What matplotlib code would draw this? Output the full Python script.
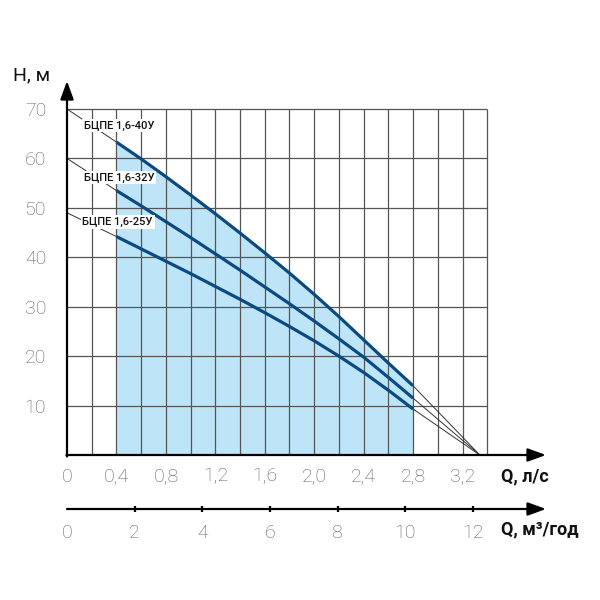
import numpy as np
import matplotlib
matplotlib.use("Agg")
import matplotlib.pyplot as plt

plt.rcParams['font.family'] = ['Roboto', 'DejaVu Sans']

# ---- data ----
q_curve = [0.4, 0.6, 0.8, 1.0, 1.2, 1.4, 1.6, 1.8, 2.0, 2.2, 2.4, 2.6, 2.8]
h_40 = [63.3, 59.9, 56.3, 52.6, 48.8, 44.9, 40.9, 36.8, 32.5, 28.0, 23.3, 18.6, 14.0]
h_32 = [53.5, 50.4, 47.2, 44.0, 40.7, 37.4, 34.0, 30.6, 27.1, 23.5, 19.8, 15.7, 11.5]
h_25 = [44.2, 41.7, 39.2, 36.7, 34.1, 31.5, 28.8, 26.0, 23.1, 20.0, 16.7, 13.1, 9.3]
series_names = ["БЦПЕ 1,6-40У", "БЦПЕ 1,6-32У", "БЦПЕ 1,6-25У"]
shutoff_heads = [70, 60, 49]          # H at Q = 0 (thin extrapolation)
q_zero_head = 3.34                      # Q where thin extrapolations meet H = 0
label_pos = [(0.42, 66.6), (0.42, 56.1), (0.41, 47.1)]

q_ticks = [0, 0.4, 0.8, 1.2, 1.6, 2.0, 2.4, 2.8, 3.2]
q_tick_labels = ["0", "0,4", "0,8", "1,2", "1,6", "2,0", "2,4", "2,8", "3,2"]
h_ticks = [10, 20, 30, 40, 50, 60, 70]
m3_ticks = [0, 2, 4, 6, 8, 10, 12]
grid_q = [0.2 * i for i in range(1, 18)]   # 0.2 ... 3.4
grid_h = [10, 20, 30, 40, 50, 60, 70]

CURVE = '#0b4a80'
FILL = '#bee4f8'
GRID = '#555555'
TICKC = '#606060'

fig = plt.figure(figsize=(6, 6), dpi=100)
W = H = 600.0
px_q = 123.6
px_h = 4.943
x0, xend = 67, 546
y0, ytop = 455, 81

ax = fig.add_axes([x0 / W, 1 - y0 / H, (xend - x0) / W, (y0 - ytop) / H])
ax.set_xlim(0, (xend - x0) / px_q)
ax.set_ylim(0, (y0 - ytop) / px_h)
for s in ax.spines.values():
    s.set_visible(False)
ax.patch.set_alpha(0)

# fill under top curve
ax.fill_between(q_curve, 0, h_40, color=FILL, lw=0, zorder=1)

# grid
ax.vlines(grid_q, 0, 70, colors=GRID, lw=0.9, zorder=2)
ax.hlines(grid_h, 0, grid_q[-1], colors=GRID, lw=0.9, zorder=2)

# curves & thin extensions
for hs, h0 in zip([h_40, h_32, h_25], shutoff_heads):
    ax.plot([0, q_curve[0]], [h0, hs[0]], color='#333333', lw=0.7, zorder=3)
    ax.plot([q_curve[-1], q_zero_head], [hs[-1], 0], color='#333333', lw=0.7, zorder=3)
    ax.plot(q_curve, hs, color=CURVE, lw=2.3, zorder=4, solid_capstyle='butt',
            solid_joinstyle='round')

for name, (lq, lh) in zip(series_names, label_pos):
    ax.text(lq, lh, name, ha='center', va='center', fontsize=8, fontweight='medium',
            color='#111111', zorder=6,
            bbox=dict(facecolor='white', edgecolor='none', pad=1.2))

# axes arrows
arrow_kw = dict(arrowstyle='-|>,head_length=1.1,head_width=0.4', lw=1.6, color='black',
                mutation_scale=10, shrinkA=0, shrinkB=0)
ax.annotate('', xy=(ax.get_xlim()[1], 0), xytext=(-0.005, 0), arrowprops=arrow_kw,
            annotation_clip=False, zorder=7)
ax.annotate('', xy=(0, ax.get_ylim()[1]), xytext=(0, -0.3), arrowprops=arrow_kw,
            annotation_clip=False, zorder=7)

ax.set_xticks(q_ticks, q_tick_labels)
ax.set_yticks(h_ticks, [str(v) for v in h_ticks])
ax.tick_params(axis='x', length=0, pad=9, labelsize=14, labelcolor=TICKC)
ax.tick_params(axis='y', length=0, pad=15, labelsize=14, labelcolor=TICKC)
for lab in ax.get_xticklabels() + ax.get_yticklabels():
    lab.set_fontweight('light')

# second (m3/h) axis
px_m3 = 33.83
yb = 509
ax2 = fig.add_axes([x0 / W, 1 - yb / H, (xend - x0) / W, 0.002])
ax2.set_xlim(0, (xend - x0) / px_m3)
ax2.set_ylim(0, 1)
for s in ax2.spines.values():
    s.set_visible(False)
ax2.patch.set_alpha(0)
ax2.set_yticks([])
ax2.annotate('', xy=(ax2.get_xlim()[1], 0), xytext=(0, 0), arrowprops=arrow_kw,
             annotation_clip=False)
ax2.set_xticks(m3_ticks, [str(v) for v in m3_ticks])
ax2.tick_params(axis='x', direction='inout', length=5, width=1.6, color='black',
                pad=8, labelsize=14, labelcolor=TICKC)
ax2.xaxis.get_major_ticks()[0].tick1line.set_visible(False)
for lab in ax2.get_xticklabels():
    lab.set_fontweight('light')

# axis titles
fig.text(13 / W, 1 - 75.7 / H, 'H, м', ha='left', va='center', fontsize=14, color='#111111')
fig.text(501 / W, 1 - 476 / H, 'Q, л/с', ha='left', va='center', fontsize=13,
         fontweight='bold', color='#111111')
fig.text(501 / W, 1 - 529 / H, 'Q, м³/год', ha='left', va='center', fontsize=13,
         fontweight='bold', color='#111111')

fig.savefig('out.png', dpi=100)
